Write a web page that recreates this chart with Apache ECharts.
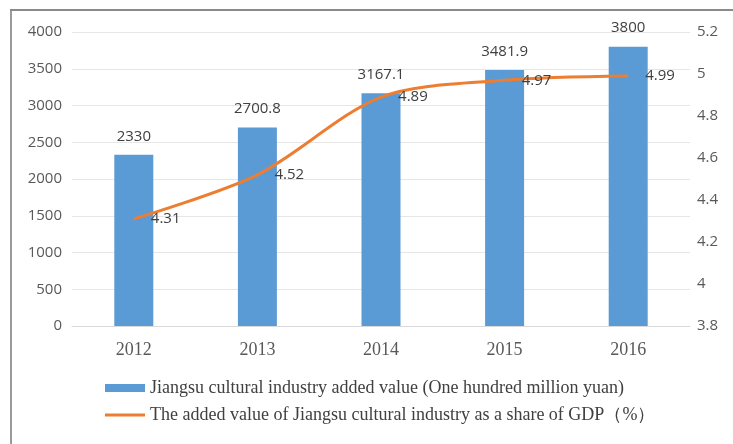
<!DOCTYPE html>
<html>
<head>
<meta charset="utf-8">
<script src="https://cdn.jsdelivr.net/npm/echarts@6/dist/echarts.min.js"></script>
<style>html,body{margin:0;padding:0;background:#fff}#c{width:733px;height:444px}</style>
</head>
<body>
<div id="c"></div>
<script>
const years = ['2012', '2013', '2014', '2015', '2016'];
const addedValue = [2330, 2700.8, 3167.1, 3481.9, 3800];
const gdpShare = [4.31, 4.52, 4.89, 4.97, 4.99];
const barName = 'Jiangsu cultural industry added value (One hundred million yuan)';
const lineName = 'The added value of Jiangsu cultural industry as a share of GDP（%）';

const chart = echarts.init(document.getElementById('c'));
const serif = '"Liberation Serif", "DejaVu Serif", serif';
const sans = '"Open Sans", "Liberation Sans", sans-serif';
chart.setOption({
  animation: false,
  backgroundColor: '#fff',
  graphic: [
    { type: 'line', shape: { x1: 11, y1: 10, x2: 11, y2: 444 }, style: { stroke: '#9a9a9a', lineWidth: 2 } },
    { type: 'line', shape: { x1: 10, y1: 10, x2: 733, y2: 10 }, style: { stroke: '#8a8a8a', lineWidth: 2 } }
  ],
  grid: { left: 72, right: 43, top: 32, bottom: 118 },
  legend: [
    { data: [barName], orient: 'vertical', left: 100, top: 374, icon: 'rect', itemWidth: 40, itemHeight: 8, itemGap: 6,
      textStyle: { fontFamily: serif, fontSize: 18, color: '#404040' } },
    { data: [lineName], orient: 'vertical', left: 100, top: 401, icon: 'rect', itemWidth: 40, itemHeight: 3, itemGap: 6,
      textStyle: { fontFamily: serif, fontSize: 18, color: '#404040' } }
  ],
  xAxis: {
    type: 'category', data: years,
    axisLine: { lineStyle: { color: '#d9d9d9' } },
    axisTick: { show: false },
    axisLabel: { fontFamily: serif, fontSize: 18, color: '#595959', margin: 15 }
  },
  yAxis: [
    { type: 'value', min: 0, max: 4000, interval: 500,
      axisLine: { show: false }, axisTick: { show: false },
      splitLine: { lineStyle: { color: '#e6e6e6' } },
      axisLabel: { fontFamily: sans, fontSize: 15, color: '#595959', margin: 10, formatter: v => String(v) } },
    { type: 'value', min: 3.8, max: 5.2, interval: 0.2,
      axisLine: { show: false }, axisTick: { show: false },
      splitLine: { show: false },
      axisLabel: { fontFamily: sans, fontSize: 15, color: '#595959', margin: 7,
        formatter: v => String(parseFloat(v.toFixed(1))) } }
  ],
  series: [
    { name: barName, type: 'bar', data: addedValue, barWidth: 39,
      itemStyle: { color: '#5b9bd5' },
      label: { show: true, position: 'top', distance: 11, fontFamily: sans, fontSize: 15, color: '#404040' } },
    { name: lineName, type: 'line', yAxisIndex: 1, data: gdpShare, smooth: 0.3,
      symbol: 'circle', symbolSize: 0.1, showAllSymbol: true,
      lineStyle: { color: '#ed7d31', width: 3 }, itemStyle: { color: '#ed7d31' },
      label: { show: true, position: 'right', distance: 17, fontFamily: sans, fontSize: 15, color: '#404040' } }
  ]
});
</script>
</body>
</html>
